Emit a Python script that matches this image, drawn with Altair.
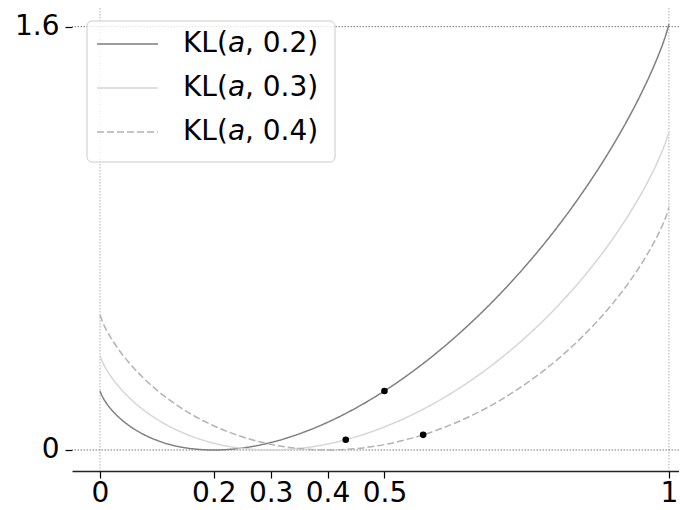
import altair as alt
import pandas as pd

# ---- data ----
a_vals = [0, 0.005, 0.01, 0.02, 0.03, 0.05, 0.075, 0.1, 0.15, 0.2, 0.25, 0.3, 0.35,
          0.4, 0.45, 0.5, 0.55, 0.6, 0.65, 0.7, 0.75, 0.8, 0.85, 0.9, 0.925, 0.95,
          0.97, 0.98, 0.99, 0.995, 1]
kl_02 = [0.2231, 0.1985, 0.1810, 0.1528, 0.1300, 0.0939, 0.0607, 0.0366, 0.0083, 0.0000,
         0.0074, 0.0281, 0.0609, 0.1046, 0.1588, 0.2231, 0.2975, 0.3819, 0.4768, 0.5826,
         0.7005, 0.8317, 0.9788, 1.1457, 1.2390, 1.3416, 1.4331, 1.4837, 1.5395, 1.5710, 1.6094]
kl_03 = [0.3567, 0.3294, 0.3092, 0.2756, 0.2474, 0.2006, 0.1538, 0.1163, 0.0611, 0.0258,
         0.0062, 0.0000, 0.0059, 0.0226, 0.0499, 0.0872, 0.1346, 0.1921, 0.2600, 0.3389,
         0.4299, 0.5341, 0.6542, 0.7942, 0.8741, 0.9631, 1.0439, 1.0891, 1.1395, 1.1683, 1.2040]
kl_04 = [0.5108, 0.4813, 0.4589, 0.4209, 0.3883, 0.3326, 0.2748, 0.2262, 0.1489, 0.0915,
         0.0499, 0.0215, 0.0053, 0.0000, 0.0052, 0.0204, 0.0457, 0.0811, 0.1270, 0.1837,
         0.2526, 0.3348, 0.4328, 0.5506, 0.6195, 0.6975, 0.7694, 0.8102, 0.8562, 0.8828, 0.9163]
p_labels = ["0.2", "0.3", "0.4"]
dot_a = [0.5, 0.432, 0.568]
dot_kl = [0.2231, 0.0388, 0.0573]
x_ticks = [0, 0.2, 0.3, 0.4, 0.5, 1]
y_ticks = [0, 1.6]
ref_x = [0, 1]
ref_y = [0, 1.6]

# ---- tables ----
curves = pd.DataFrame({
    "a": a_vals * 3,
    "kl": kl_02 + kl_03 + kl_04,
    "p": [p_labels[0]] * len(a_vals) + [p_labels[1]] * len(a_vals) + [p_labels[2]] * len(a_vals),
})
dots = pd.DataFrame({"a": dot_a, "kl": dot_kl})
refx = pd.DataFrame({"gx": ref_x})
refy = pd.DataFrame({"gy": ref_y})

FONT = "DejaVu Sans"
colors = ["#7f7f7f", "#d6d6d6", "#b3b3b3"]
dashes = [[1, 0], [1, 0], [7, 3]]

xscale = alt.Scale(domain=[-0.04922, 1.01775], nice=False, zero=False)
yscale = alt.Scale(domain=[-0.0794, 1.6705], nice=False, zero=False)
cscale = alt.Scale(domain=p_labels, range=colors)
dscale = alt.Scale(domain=p_labels, range=dashes)

xaxis = alt.Axis(values=x_ticks, format="~g", title=None, grid=False,
                 labelFontSize=28, labelFont=FONT, labelColor="black",
                 tickColor="black", tickSize=7, tickWidth=1.2,
                 domainColor="#222222", domainWidth=1.3,
                 labelPadding=1.5, labelFlush=False, labelOverlap=False)
yaxis = alt.Axis(values=y_ticks, format="~g", title=None, grid=False, domain=False,
                 labelFontSize=28, labelFont=FONT, labelColor="black",
                 tickColor="black", tickSize=7, tickWidth=1.2,
                 labelPadding=6, labelOverlap=False)

vlines = alt.Chart(refx).mark_rule(color="#9a9a9a", strokeWidth=0.8, strokeDash=[1.5, 1.5]).encode(
    x=alt.X("gx:Q", scale=xscale, axis=xaxis)
)
hlines = alt.Chart(refy).mark_rule(color="#555555", strokeWidth=0.8, strokeDash=[1.5, 1.5]).encode(
    y=alt.Y("gy:Q", scale=yscale, axis=yaxis)
)

lines = alt.Chart(curves).mark_line(strokeWidth=1.5, interpolate="monotone", clip=True).encode(
    x=alt.X("a:Q", scale=xscale, axis=xaxis),
    y=alt.Y("kl:Q", scale=yscale, axis=yaxis),
    color=alt.Color("p:N", scale=cscale, legend=None),
    strokeDash=alt.StrokeDash("p:N", scale=dscale, legend=None),
    detail="p:N",
)

points = alt.Chart(dots).mark_point(filled=True, color="black", size=44, opacity=1).encode(
    x=alt.X("a:Q", scale=xscale),
    y=alt.Y("kl:Q", scale=yscale),
)

# ---- hand-built legend (pixel positions inside the plot area) ----
leg = pd.DataFrame({"p": p_labels})
leg["row_y"] = [36 + 44 * i for i in range(len(p_labels))]
leg["kl_txt"] = "KL("
leg["a_txt"] = "a"
leg["rest_txt"] = [", " + p + ")" for p in p_labels]

box = alt.Chart(pd.DataFrame({"k": [0]})).mark_rect(
    fill="white", fillOpacity=0.8, stroke="#cccccc", strokeWidth=1, cornerRadius=5
).encode(x=alt.value(15), x2=alt.value(263), y=alt.value(13), y2=alt.value(154))

leg_lines = alt.Chart(leg).mark_rule(strokeWidth=1.5).encode(
    x=alt.value(25), x2=alt.value(86),
    y=alt.Y("row_y:Q", scale=None),
    color=alt.Color("p:N", scale=cscale, legend=None),
    strokeDash=alt.StrokeDash("p:N", scale=dscale, legend=None),
)
t1 = alt.Chart(leg).mark_text(align="left", baseline="middle", font=FONT, fontSize=28, color="black").encode(
    x=alt.value(111), y=alt.Y("row_y:Q", scale=None), text="kl_txt:N")
t2 = alt.Chart(leg).mark_text(align="left", baseline="middle", font=FONT, fontSize=28, fontStyle="italic",
                              color="black").encode(
    x=alt.value(156), y=alt.Y("row_y:Q", scale=None), text="a_txt:N")
t3 = alt.Chart(leg).mark_text(align="left", baseline="middle", font=FONT, fontSize=28, color="black").encode(
    x=alt.value(173), y=alt.Y("row_y:Q", scale=None), text="rest_txt:N")

chart = alt.layer(vlines, hlines, lines, points, box, leg_lines, t1, t2, t3).resolve_scale(
    y="shared", x="shared"
).properties(
    width=607, height=463,
    padding={"left": 64, "top": 0, "right": 0, "bottom": 45},
    autosize=alt.AutoSizeParams(type="none"),
    background="white",
).configure_view(strokeWidth=0, stroke=None)

chart.save("out.html", embed_options={"renderer": "svg", "actions": False})
